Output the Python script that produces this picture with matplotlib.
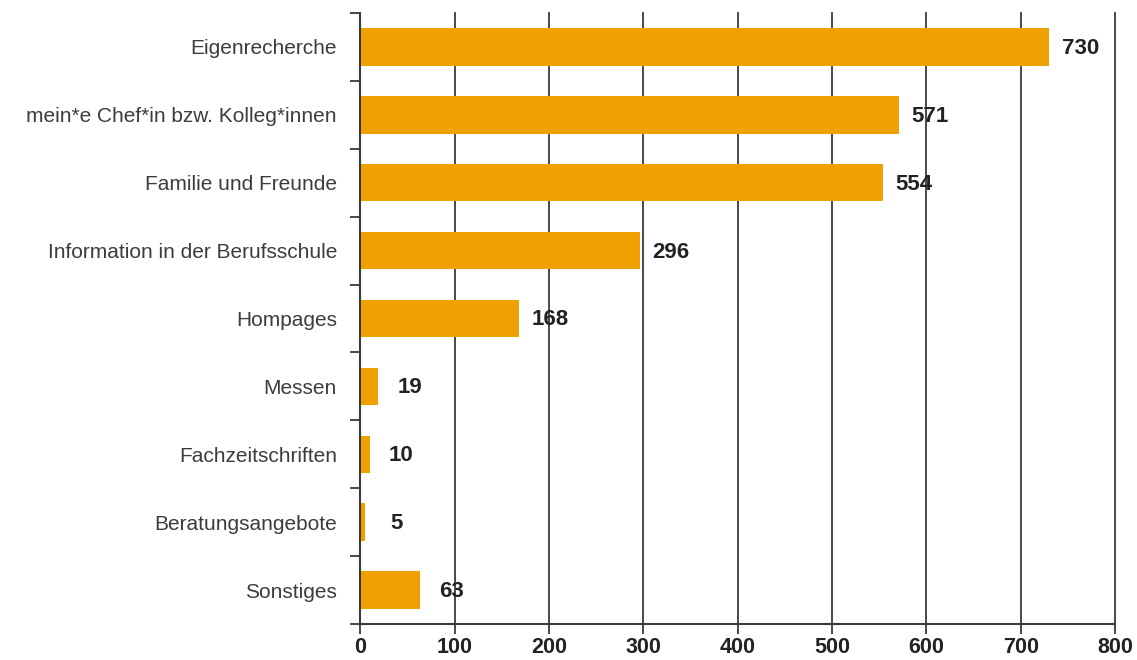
import matplotlib
matplotlib.use("Agg")
import matplotlib.pyplot as plt
from matplotlib.ticker import FixedLocator
import numpy as np

categories = ["Eigenrecherche", "mein*e Chef*in bzw. Kolleg*innen", "Familie und Freunde",
              "Information in der Berufsschule", "Hompages", "Messen", "Fachzeitschriften",
              "Beratungsangebote", "Sonstiges"]
values = [730, 571, 554, 296, 168, 19, 10, 5, 63]
xticks = [0, 100, 200, 300, 400, 500, 600, 700, 800]

bar_color = "#F0A000"
line_color = "#3a3a3a"

fig = plt.figure(figsize=(11.37, 6.6), dpi=100)
ax = fig.add_axes([360.5/1137, 36/660, (1115-360.5)/1137, (624-13)/660])

y = np.arange(len(categories))
ax.barh(y, values, height=0.55, color=bar_color, zorder=3)
ax.set_ylim(len(categories) - 0.5, -0.5)
ax.set_xlim(0, 800)

ax.set_xticks(xticks)
ax.set_xticklabels([str(t) for t in xticks], fontsize=15.5, fontweight="bold",
                   family=["Liberation Sans", "DejaVu Sans"], color="#222222")
ax.xaxis.grid(True, color=line_color, linewidth=1.3, zorder=0)
for gl in ax.get_xgridlines():
    gl.set_clip_on(False)
ax.tick_params(axis="x", length=7.5, width=1.3, color=line_color, pad=2)

ax.set_yticks(y)
ax.set_yticklabels(categories, fontsize=15, family=["Liberation Sans", "DejaVu Sans"],
                   color="#3c3c3c")
ax.yaxis.set_minor_locator(FixedLocator(np.arange(-0.5, len(categories), 1.0)))
ax.tick_params(axis="y", which="major", length=0, pad=17)
ax.tick_params(axis="y", which="minor", length=7.5, width=1.3, color=line_color)

for s in ["top", "right"]:
    ax.spines[s].set_visible(False)
for s in ["left", "bottom"]:
    ax.spines[s].set_color(line_color)
    ax.spines[s].set_linewidth(1.5)
    ax.spines[s].set_zorder(4)

for yi, v in zip(y, values):
    ax.annotate(str(v), xy=(v, yi), xytext=(22.5, -1), textcoords="offset points",
                ha="center", va="center", fontsize=16, fontweight="bold",
                family=["Liberation Sans", "DejaVu Sans"], color="#222222", zorder=5)

fig.savefig("out.png", dpi=100)
